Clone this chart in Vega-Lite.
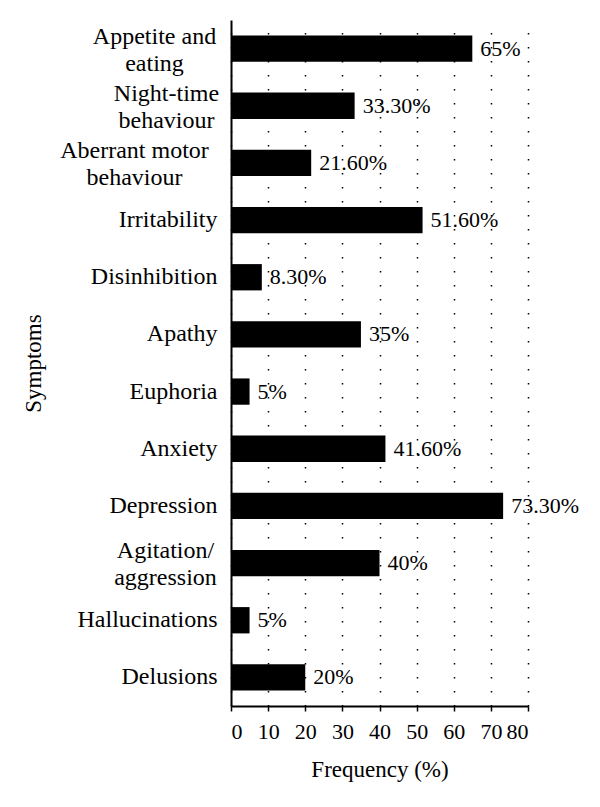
{
  "$schema": "https://vega.github.io/schema/vega-lite/v6.json",
  "autosize": "none",
  "width": 297,
  "height": 686,
  "padding": {"left": 231, "top": 20, "right": 72, "bottom": 101},
  "background": "white",
  "config": {
    "font": "Liberation Serif",
    "view": {"stroke": null}
  },
  "data": {
    "values": [
      {"symptom": "Appetite and|eating", "freq": 65, "label": "65%"},
      {"symptom": "Night-time|behaviour", "freq": 33.3, "label": "33.30%"},
      {"symptom": "Aberrant motor|behaviour", "freq": 21.6, "label": "21.60%"},
      {"symptom": "Irritability", "freq": 51.6, "label": "51.60%"},
      {"symptom": "Disinhibition", "freq": 8.3, "label": "8.30%"},
      {"symptom": "Apathy", "freq": 35, "label": "35%"},
      {"symptom": "Euphoria", "freq": 5, "label": "5%"},
      {"symptom": "Anxiety", "freq": 41.6, "label": "41.60%"},
      {"symptom": "Depression", "freq": 73.3, "label": "73.30%"},
      {"symptom": "Agitation/|aggression", "freq": 40, "label": "40%"},
      {"symptom": "Hallucinations", "freq": 5, "label": "5%"},
      {"symptom": "Delusions", "freq": 20, "label": "20%"}
    ]
  },
  "encoding": {
    "y": {
      "field": "symptom",
      "type": "nominal",
      "sort": null,
      "scale": {"paddingInner": 0.54, "paddingOuter": 0.27},
      "axis": {
        "title": "Symptoms",
        "titleFontSize": 23,
        "titleFontWeight": "normal",
        "titleColor": "black",
        "titleX": -186,
        "labelExpr": "split(datum.label, '|')",
        "labelFontSize": 24,
        "labelColor": "black",
        "labelLineHeight": 27,
        "labelAlign": {"condition": {"test": "indexof(datum.value, '|') >= 0", "value": "center"}, "value": "right"},
        "labelPadding": {"condition": [
          {"test": "datum.value === 'Appetite and|eating'", "value": 77},
          {"test": "datum.value === 'Night-time|behaviour'", "value": 65},
          {"test": "datum.value === 'Aberrant motor|behaviour'", "value": 97},
          {"test": "datum.value === 'Agitation/|aggression'", "value": 66}
        ], "value": 14},
        "labelOffset": {"condition": {"test": "indexof(datum.value, '|') >= 0", "value": -12}, "value": 0},
        "ticks": false,
        "domainColor": "black",
        "domainWidth": 2,
        "grid": false
      }
    },
    "x": {
      "field": "freq",
      "type": "quantitative",
      "scale": {"domain": [0, 80], "nice": false},
      "axis": {
        "title": "Frequency (%)",
        "titleFontSize": 23,
        "titleFontWeight": "normal",
        "titleColor": "black",
        "titlePadding": 16,
        "values": [0, 10, 20, 30, 40, 50, 60, 70, 80],
        "labelFontSize": 22,
        "labelColor": "black",
        "labelPadding": 10,
        "tickColor": "black",
        "tickSize": 5,
        "tickWidth": 1.5,
        "domainColor": "black",
        "domainWidth": 2,
        "grid": true,
        "gridColor": "black",
        "gridWidth": 1.5,
        "gridDash": [1.5, 12.5],
        "gridDashOffset": 0
      }
    }
  },
  "layer": [
    {"mark": {"type": "bar", "color": "black"}},
    {
      "mark": {"type": "text", "align": "left", "baseline": "middle", "dx": 8, "fontSize": 22, "color": "black"},
      "encoding": {"text": {"field": "label"}}
    }
  ]
}
